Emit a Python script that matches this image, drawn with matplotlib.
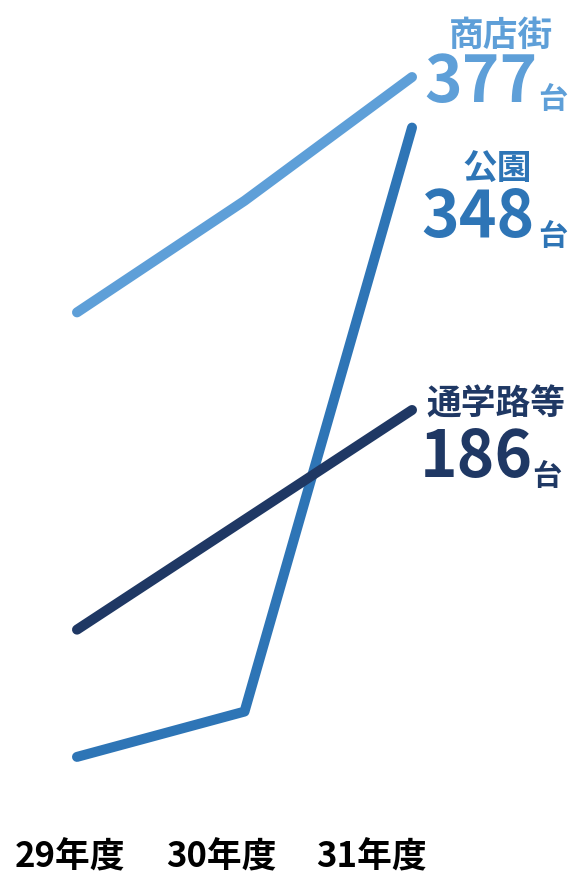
import matplotlib.pyplot as plt

plt.rcParams['font.family'] = ['Noto Sans CJK JP', 'DejaVu Sans']

years = ['29年度', '30年度', '31年度']
x = [0, 1, 2]
shotengai = [242, 306, 377]
koen = [-13, 13, 348]
tsugakuro = [60, 123, 186]

names = ['商店街', '公園', '通学路等']
totals = ['377', '348', '186']
colors = ['#5e9fd8', '#2e75b6', '#1f3864']

W, H = 576, 877
fig = plt.figure(figsize=(W / 100, H / 100), dpi=100)
ax = fig.add_axes([0, 0, 1, 1])
ax.set_xlim(-0.4597, 2.979)
ax.set_ylim(-81.9, 421.2)
ax.axis('off')

for ys, c in zip([shotengai, koen, tsugakuro], colors):
    ax.plot(x, ys, color=c, lw=7.2, solid_capstyle='round', solid_joinstyle='round')


def px(xp, yp):
    return xp / W, 1 - yp / H


# series labels (name, total, unit) at pixel positions
label_pos = [(501, 35, 481, 83, 553, 108),
             (497, 168, 478, 218, 553, 245),
             (496, 404, 476, 458, 547, 485)]
for name, tot, c, (nx, ny, tx, ty, ux, uy) in zip(names, totals, colors, label_pos):
    fig.text(*px(nx, ny), name, color=c, fontsize=25, fontweight='bold',
             ha='center', va='center')
    fig.text(*px(tx, ty), tot, color=c, fontsize=46, fontweight='bold',
             ha='center', va='center')
    fig.text(*px(ux, uy), '台', color=c, fontsize=21, fontweight='bold',
             ha='center', va='baseline')

for lab, lx in zip(years, [70, 221, 371]):
    fig.text(*px(lx, 857), lab, color='black', fontsize=25, fontweight='bold',
             ha='center', va='center')

fig.savefig('out.png', dpi=100)
